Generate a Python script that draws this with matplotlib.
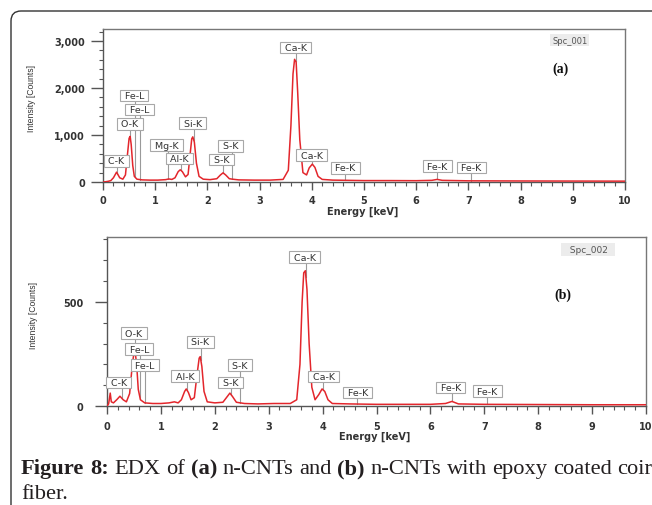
import numpy as np
import matplotlib
matplotlib.use("Agg")
import matplotlib.pyplot as plt
from matplotlib.patches import FancyBboxPatch
from matplotlib.ticker import MultipleLocator, FuncFormatter

# ---------------- data ----------------
energy_a = [0.00, 0.05, 0.10, 0.15, 0.20, 0.26, 0.32, 0.38, 0.43, 0.47, 0.50, 0.52, 0.54, 0.57,
            0.60, 0.65, 0.75, 0.90, 1.05, 1.20, 1.26, 1.32, 1.38, 1.44, 1.48, 1.52, 1.58, 1.63,
            1.67, 1.70, 1.72, 1.75, 1.79, 1.84, 1.92, 2.05, 2.18, 2.25, 2.30, 2.35, 2.42, 2.48,
            2.60, 2.90, 3.20, 3.45, 3.55, 3.60, 3.64, 3.67, 3.70, 3.73, 3.77, 3.83, 3.90, 3.95,
            4.01, 4.06, 4.12, 4.20, 4.40, 4.70, 5.00, 5.50, 6.00, 6.30, 6.40, 6.50, 7.00, 8.00,
            9.00, 10.0]
counts_a = [0, 5, 15, 30, 90, 210, 90, 60, 150, 600, 930, 970, 800, 350,
            120, 60, 45, 40, 40, 50, 65, 55, 90, 220, 260, 220, 110, 160,
            600, 920, 960, 850, 400, 120, 60, 50, 70, 150, 195, 150, 70, 60,
            45, 40, 40, 55, 250, 1200, 2300, 2610, 2550, 1900, 900, 200, 150, 300,
            380, 310, 120, 55, 40, 35, 30, 30, 28, 35, 55, 35, 25, 22,
            20, 18]

energy_b = [0.00, 0.03, 0.06, 0.08, 0.12, 0.18, 0.24, 0.30, 0.36, 0.42, 0.47, 0.50, 0.52, 0.55,
            0.58, 0.62, 0.70, 0.85, 1.00, 1.15, 1.25, 1.32, 1.38, 1.44, 1.47, 1.51, 1.56, 1.62,
            1.67, 1.71, 1.73, 1.76, 1.80, 1.86, 2.00, 2.15, 2.23, 2.28, 2.33, 2.40, 2.55, 2.80,
            3.10, 3.40, 3.52, 3.58, 3.62, 3.65, 3.68, 3.71, 3.75, 3.80, 3.86, 3.93, 3.99, 4.04,
            4.10, 4.18, 4.50, 5.00, 5.50, 6.00, 6.28, 6.40, 6.52, 7.00, 8.00, 9.00, 10.0]
counts_b = [0, 10, 62, 20, 15, 30, 47, 30, 20, 60, 200, 255, 265, 200,
            80, 30, 15, 12, 12, 15, 20, 15, 30, 70, 82, 65, 30, 40,
            150, 230, 237, 190, 70, 20, 15, 18, 45, 62, 45, 18, 12, 10,
            12, 12, 30, 200, 500, 640, 650, 560, 300, 90, 30, 55, 82, 70,
            30, 12, 10, 8, 8, 8, 12, 22, 10, 8, 7, 6, 6]

peak_labels = ["C-K", "O-K", "Fe-L", "Fe-L", "Mg-K", "Al-K", "Si-K", "S-K", "S-K",
               "Ca-K", "Ca-K", "Fe-K", "Fe-K", "Fe-K"]
line_e_a = [0.277, 0.525, 0.615, 0.705, 1.253, 1.486, 1.739, 2.464, 2.307,
            3.690, 4.012, 4.640, 6.398, 7.057]
box_e_a = [0.25, 0.51, 0.60, 0.70, 1.22, 1.47, 1.72, 2.44, 2.27, 3.69, 4.00, 4.64, 6.40, 7.06]
box_y_a = [447, 1234, 1840, 1543, 787, 500, 1255, 766, 479, 2862, 574, 298, 340, 309]

labels_b = ["C-K", "O-K", "Fe-L", "Fe-L", "Al-K", "Si-K", "S-K", "S-K",
            "Ca-K", "Ca-K", "Fe-K", "Fe-K", "Fe-K"]
line_e_b = [0.277, 0.525, 0.615, 0.705, 1.486, 1.739, 2.464, 2.307,
            3.690, 4.012, 4.640, 6.398, 7.057]
box_e_b = [0.22, 0.50, 0.60, 0.70, 1.45, 1.73, 2.47, 2.29, 3.67, 4.02, 4.65, 6.38, 7.06]
box_y_b = [113, 349, 272, 195, 144, 308, 195, 113, 714, 142, 65, 89, 72]

W, H = 652, 506
fig = plt.figure(figsize=(W / 100, H / 100), dpi=100)
fig.patch.set_facecolor("white")

RED = "#e3262c"
SPINE = "#555555"
TXT = "#333333"


def px_axes(left, top, right, bottom):
    return fig.add_axes([left / W, 1 - bottom / H, (right - left) / W, (bottom - top) / H])


def style_axes(ax, ymax, ymajor, yminor, fmt, ylen, ypad, xpad):
    ax.set_xlim(0, 10)
    ax.set_ylim(0, ymax)
    ax.xaxis.set_major_locator(MultipleLocator(1))
    ax.xaxis.set_minor_locator(MultipleLocator(0.2))
    ax.yaxis.set_major_locator(MultipleLocator(ymajor))
    ax.yaxis.set_minor_locator(MultipleLocator(yminor))
    ax.yaxis.set_major_formatter(FuncFormatter(fmt))
    ax.tick_params(axis="x", which="major", length=6, width=1.0, color=SPINE,
                   labelsize=7, labelcolor=TXT, pad=xpad, direction="out")
    ax.tick_params(axis="x", which="minor", length=3, width=0.8, color=SPINE, direction="out")
    ax.tick_params(axis="y", which="major", length=ylen, width=1.0, color=SPINE,
                   labelsize=7, labelcolor=TXT, pad=ypad, direction="out")
    ax.tick_params(axis="y", which="minor", length=3, width=0.8, color=SPINE, direction="out")
    for lab in ax.get_xticklabels() + ax.get_yticklabels():
        lab.set_fontweight("bold")
    for s in ["left", "bottom"]:
        ax.spines[s].set_color(SPINE)
        ax.spines[s].set_linewidth(1.0)
    for s in ["top", "right"]:
        ax.spines[s].set_color("#777777")
        ax.spines[s].set_linewidth(1.0)


def draw_labels(ax, energy, counts, labels, line_e, box_e, box_y):
    for lab, le, be, by in zip(labels, line_e, box_e, box_y):
        yv = float(np.interp(le, energy, counts))
        ax.plot([le, le], [yv, by], color="#9a9a9a", lw=0.8, zorder=2)
        ax.text(be, by, " " + lab + " ", fontsize=6.8, color=TXT, ha="center", va="center",
                zorder=5,
                bbox=dict(boxstyle="square,pad=0.15", fc="white", ec="#a8a8a8", lw=0.8))


# ---------------- panel (a) ----------------
axa = px_axes(103, 30, 625, 183)
axa.plot(energy_a, counts_a, color=RED, lw=1.1, zorder=3)
style_axes(axa, 3255, 1000, 200, lambda v, p: f"{int(v):,}", 9, 4, 3)
draw_labels(axa, energy_a, counts_a, peak_labels, line_e_a, box_e_a, box_y_a)
axa.text(0.894, 0.928, "Spc_001", transform=axa.transAxes, fontsize=6, color="#555555",
         ha="center", va="center",
         bbox=dict(boxstyle="square,pad=0.2", fc="#ececec", ec="none"))
axa.text(0.877, 0.745, "(a)", transform=axa.transAxes, fontsize=10, fontweight="bold",
         family="Liberation Serif", color="#111111", ha="center", va="center")

# ---------------- panel (b) ----------------
axb = px_axes(107, 238, 646, 407)
axb.plot(energy_b, counts_b, color=RED, lw=1.1, zorder=3)
style_axes(axb, 812, 500, 100, lambda v, p: f"{int(v)}", 9, 8, 5)
draw_labels(axb, energy_b, counts_b, labels_b, line_e_b, box_e_b, box_y_b)
axb.text(0.893, 0.926, "  Spc_002  ", transform=axb.transAxes, fontsize=6.5, color="#555555",
         ha="center", va="center",
         bbox=dict(boxstyle="square,pad=0.25", fc="#ececec", ec="none"))
axb.text(0.845, 0.66, "(b)", transform=axb.transAxes, fontsize=10, fontweight="bold",
         family="Liberation Serif", color="#111111", ha="center", va="center")

# axis titles
fig.text(32 / W, 1 - 98 / H, "Intensity [Counts]", rotation=90, ha="center", va="center",
         fontsize=6.2, family="Liberation Sans", color=TXT)
fig.text(33 / W, 1 - 316 / H, "Intensity [Counts]", rotation=90, ha="center", va="center",
         fontsize=6.2, family="Liberation Sans", color=TXT)
fig.text(363 / W, 1 - 212 / H, "Energy [keV]", ha="center", va="center",
         fontsize=7, fontweight="bold", color=TXT)
fig.text(375 / W, 1 - 437 / H, "Energy [keV]", ha="center", va="center",
         fontsize=7, fontweight="bold", color=TXT)

# outer rounded frame
frame = FancyBboxPatch((11 / 100, -0.2), 8.0, (H - 12) / 100 + 0.2,
                       boxstyle="round,pad=0,rounding_size=0.1",
                       transform=fig.dpi_scale_trans, fc="none", ec="#333333", lw=1.0)
fig.add_artist(frame)

# caption
renderer = fig.canvas.get_renderer()
CAP_SIZE = 16.2


def text_w(s, weight):
    t = fig.text(0, 0, s, fontsize=CAP_SIZE, fontweight=weight, family="Liberation Serif")
    w = t.get_window_extent(renderer=renderer).width
    t.remove()
    return w


space_w = text_w("x x", "normal") - text_w("xx", "normal")
tokens1 = [("Figure", "bold"), ("8:", "bold"), ("EDX", "normal"), ("of", "normal"),
           ("(a)", "bold"), ("n-CNTs", "normal"), ("and", "normal"), ("(b)", "bold"),
           ("n-CNTs", "normal"), ("with", "normal"), ("epoxy", "normal"),
           ("coated", "normal"), ("coir", "normal")]
tokens2 = [("fiber.", "normal")]


def draw_line(tokens, x_px, base_px):
    x = x_px
    for word, weight in tokens:
        t = fig.text(x / W, 1 - base_px / H, word, fontsize=CAP_SIZE, fontweight=weight,
                     family="Liberation Serif", color="#231f20", va="baseline", ha="left")
        x += t.get_window_extent(renderer=renderer).width + space_w


draw_line(tokens1, 21, 474)
draw_line(tokens2, 21, 499)

fig.savefig("out.png", dpi=100)
